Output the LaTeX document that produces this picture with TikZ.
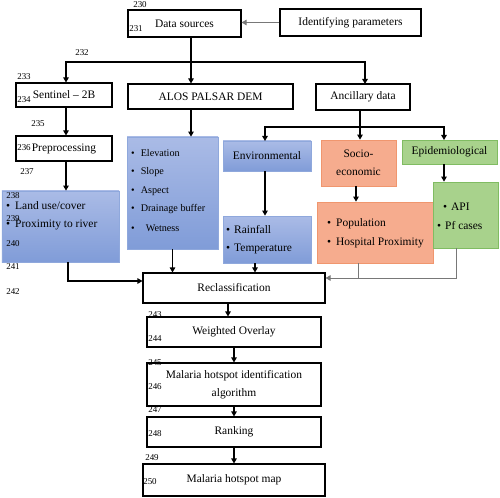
\documentclass[tikz,border=0pt]{standalone}
\usepackage{fontspec}
\setmainfont{Liberation Serif}
\usetikzlibrary{arrows.meta, positioning}
\definecolor{bluetop}{RGB}{170,187,230}
\definecolor{bluebot}{RGB}{128,156,216}
\definecolor{blueline}{RGB}{143,168,220}
\definecolor{socfill}{RGB}{246,172,142}
\definecolor{socline}{RGB}{240,150,110}
\definecolor{epifill}{RGB}{168,210,140}
\definecolor{epiline}{RGB}{128,188,98}
\definecolor{linkgray}{RGB}{120,120,120}

\begin{document}
\begin{tikzpicture}[x=1bp, y=-1bp, font=\fontsize{11.5}{18.5}\selectfont]
		% Styles for boxes, lists and links
		\tikzset{box/.style={draw, line width=1.1bp, fill=white, inner sep=1bp, align=center}}
		\tikzset{bluebox/.style={draw=blueline, line width=0.8bp, top color=bluetop, bottom color=bluebot, inner sep=1bp}}
		\tikzset{socbox/.style={draw=socline, line width=0.8bp, fill=socfill, inner sep=1bp, align=center}}
		\tikzset{epibox/.style={draw=epiline, line width=0.8bp, fill=epifill, inner sep=1bp}}
		\tikzset{item/.style={anchor=west, inner sep=0pt}}
		\tikzset{num/.style={inner sep=0pt, font=\fontsize{9}{9}\selectfont}}
		\tikzset{arr/.style={line width=1.1bp, -{Triangle[length=5bp, width=5.5bp]}}}
		\tikzset{garr/.style={draw=linkgray, line width=0.9bp, -{Triangle[length=5bp, width=5.5bp]}}}
		\tikzset{gline/.style={draw=linkgray, line width=0.9bp}}
		\useasboundingbox (0,0) rectangle (500,498);
		
		% Top row
		\node[box, minimum width=113bp, minimum height=27bp] (ds) at (184.5,23.5) {Data sources};
		\node[box, minimum width=141bp, minimum height=27bp] (idp) at (350.5,22.5) {Identifying parameters};
		\draw[garr] (idp.west) -- (ds.east |- idp.west);
		
		% Sources
		\node[box, minimum width=96bp, minimum height=24bp] (sen) at (64,95) {Sentinel -- 2B};
		\node[box, minimum width=165bp, minimum height=25bp] (alos) at (210.5,96.5) {ALOS PALSAR DEM};
		\node[box, minimum width=94bp, minimum height=26bp] (anc) at (363,97) {Ancillary data};
		\coordinate (split) at (191,62);
		\coordinate (senx) at (66,62);
		\draw[line width=1.1bp] (split |- ds.south) -- (split);
		\draw[arr] (split) -- (senx) -- (senx |- sen.north);
		\draw[arr] (split) -- (split |- alos.north);
		\draw[arr] (split) -| (365,84);
		
		% Sentinel branch
		\node[box, minimum width=96bp, minimum height=25bp] (pre) at (64,148.5) {Preprocessing};
		\node[bluebox, minimum width=117bp, minimum height=71bp] (land) at (60.5,226.5) {};
		\node[item] (land1) at (6,206) {\textbullet\hspace{5bp}Land use/cover};
		\node[item] (land2) at (6,225) {\textbullet\hspace{5bp}Proximity to river};
		\draw[arr] (senx |- sen.south) -- (senx |- pre.north);
		\draw[arr] (senx |- pre.south) -- (senx |- land.north);
		
		% DEM branch
		\node[bluebox, minimum width=91bp, minimum height=112bp] (elev) at (172.5,193) {};
		\begin{scope}[font=\fontsize{10.2}{12}\selectfont]
		\node[item] (elev1) at (131,153) {\textbullet\hspace{6bp}Elevation};
		\node[item] (elev2) at (131,172) {\textbullet\hspace{6bp}Slope};
		\node[item] (elev3) at (131,191) {\textbullet\hspace{6bp}Aspect};
		\node[item] (elev4) at (131,209) {\textbullet\hspace{6bp}Drainage buffer};
		\node[item] (elev5) at (131,228) {\textbullet\hspace{11bp}Wetness};
		\end{scope}
		\draw[arr] (split |- alos.south) -- (split |- elev.north);
		
		% Ancillary branch
		\node[bluebox, minimum width=88bp, minimum height=30bp] (env) at (267,156) {Environmental};
		\node[socbox, minimum width=75bp, minimum height=46bp] (soc) at (358.5,163) {Socio-\\economic};
		\node[epibox, minimum width=95bp, minimum height=24bp] (epi) at (449.5,152) {Epidemiological};
		\coordinate (fork) at (360,127);
		\draw[line width=1.1bp] (fork |- anc.south) -- (fork);
		\draw[arr] (fork) -| (265,141);
		\draw[arr] (fork) -- (fork |- soc.north);
		\draw[arr] (fork) -| (444,140);
		
		\node[bluebox, minimum width=88bp, minimum height=47bp] (rain) at (267,239.5) {};
		\node[item] (rain1) at (226,230) {\textbullet\hspace{4bp}Rainfall};
		\node[item] (rain2) at (226,249) {\textbullet\hspace{4bp}Temperature};
		\node[socbox, minimum width=116bp, minimum height=61bp] (pop) at (375,232.5) {};
		\node[item] (pop1) at (327,224) {\textbullet\hspace{5bp}Population};
		\node[item] (pop2) at (327,243) {\textbullet\hspace{5bp}Hospital Proximity};
		\node[epibox, minimum width=65bp, minimum height=66bp] (pf) at (465.5,215) {};
		\node[item] (pf1) at (443,207) {\textbullet\hspace{4bp}API};
		\node[item] (pf2) at (437,226) {\textbullet\hspace{4bp}Pf cases};
		\draw[arr] ([xshift=-2bp]env.south) -- ([xshift=-2bp]rain.north);
		\draw[arr] ([xshift=-2.5bp]soc.south) -- ([xshift=-2.5bp]soc.south |- pop.north);
		\draw[arr] ([xshift=-5.5bp]epi.south) -- ([xshift=-5.5bp]epi.south |- pf.north);
		
		% Processing chain
		\node[box, minimum width=182bp, minimum height=30bp] (rec) at (234,288) {Reclassification};
		\node[box, minimum width=174bp, minimum height=30bp] (wo) at (234,332) {Weighted Overlay};
		\node[box, minimum width=174bp, minimum height=43bp] (alg) at (234,384.5) {Malaria hotspot identification\\algorithm};
		\node[box, minimum width=174bp, minimum height=30bp] (rank) at (234,432) {Ranking};
		\node[box, minimum width=182bp, minimum height=32bp] (map) at (234,480) {Malaria hotspot map};
		
		\draw[arr] ([xshift=7.5bp]land.south) |- ([yshift=7bp]rec.west);
		\draw[arr] (elev.south) -- (elev.south |- rec.north);
		\draw[arr] ([xshift=-12bp]rain.south) -- ([xshift=-12bp]rain.south |- rec.north);
		\coordinate (join) at ([yshift=10bp]rec.east);
		\draw[gline] ([xshift=-17bp]pop.south) -- ([xshift=-17bp]pop.south |- join);
		\draw[garr] ([xshift=-9.5bp]pf.south) |- (join);
		
		\draw[arr] ([xshift=-6bp]rec.south) -- ([xshift=-6bp]wo.north);
		\draw[arr] (wo) -- (alg);
		\draw[arr] (alg) -- (rank);
		\draw[arr] (rank) -- (map);
		
		% Line numbers
		\node[num] (n230) at (140,5) {230};
		\node[num] (n231) at (136,29) {231};
		\node[num] (n232) at (82,53) {232};
		\node[num] (n233) at (24,77) {233};
		\node[num] (n234) at (24,100) {234};
		\node[num] (n235) at (38,124) {235};
		\node[num] (n236) at (24,148) {236};
		\node[num] (n237) at (27,172) {237};
		\node[num] (n238) at (13,196) {238};
		\node[num] (n239) at (13,219) {239};
		\node[num] (n240) at (13,244) {240};
		\node[num] (n241) at (13,267) {241};
		\node[num] (n242) at (13,292) {242};
		\node[num] (n243) at (155,315) {243};
		\node[num] (n244) at (155,339) {244};
		\node[num] (n245) at (155,363) {245};
		\node[num] (n246) at (155,387) {246};
		\node[num] (n247) at (155,410) {247};
		\node[num] (n248) at (155,434) {248};
		\node[num] (n249) at (152,458) {249};
		\node[num] (n250) at (150,482) {250};
	\end{tikzpicture}
\end{document}
